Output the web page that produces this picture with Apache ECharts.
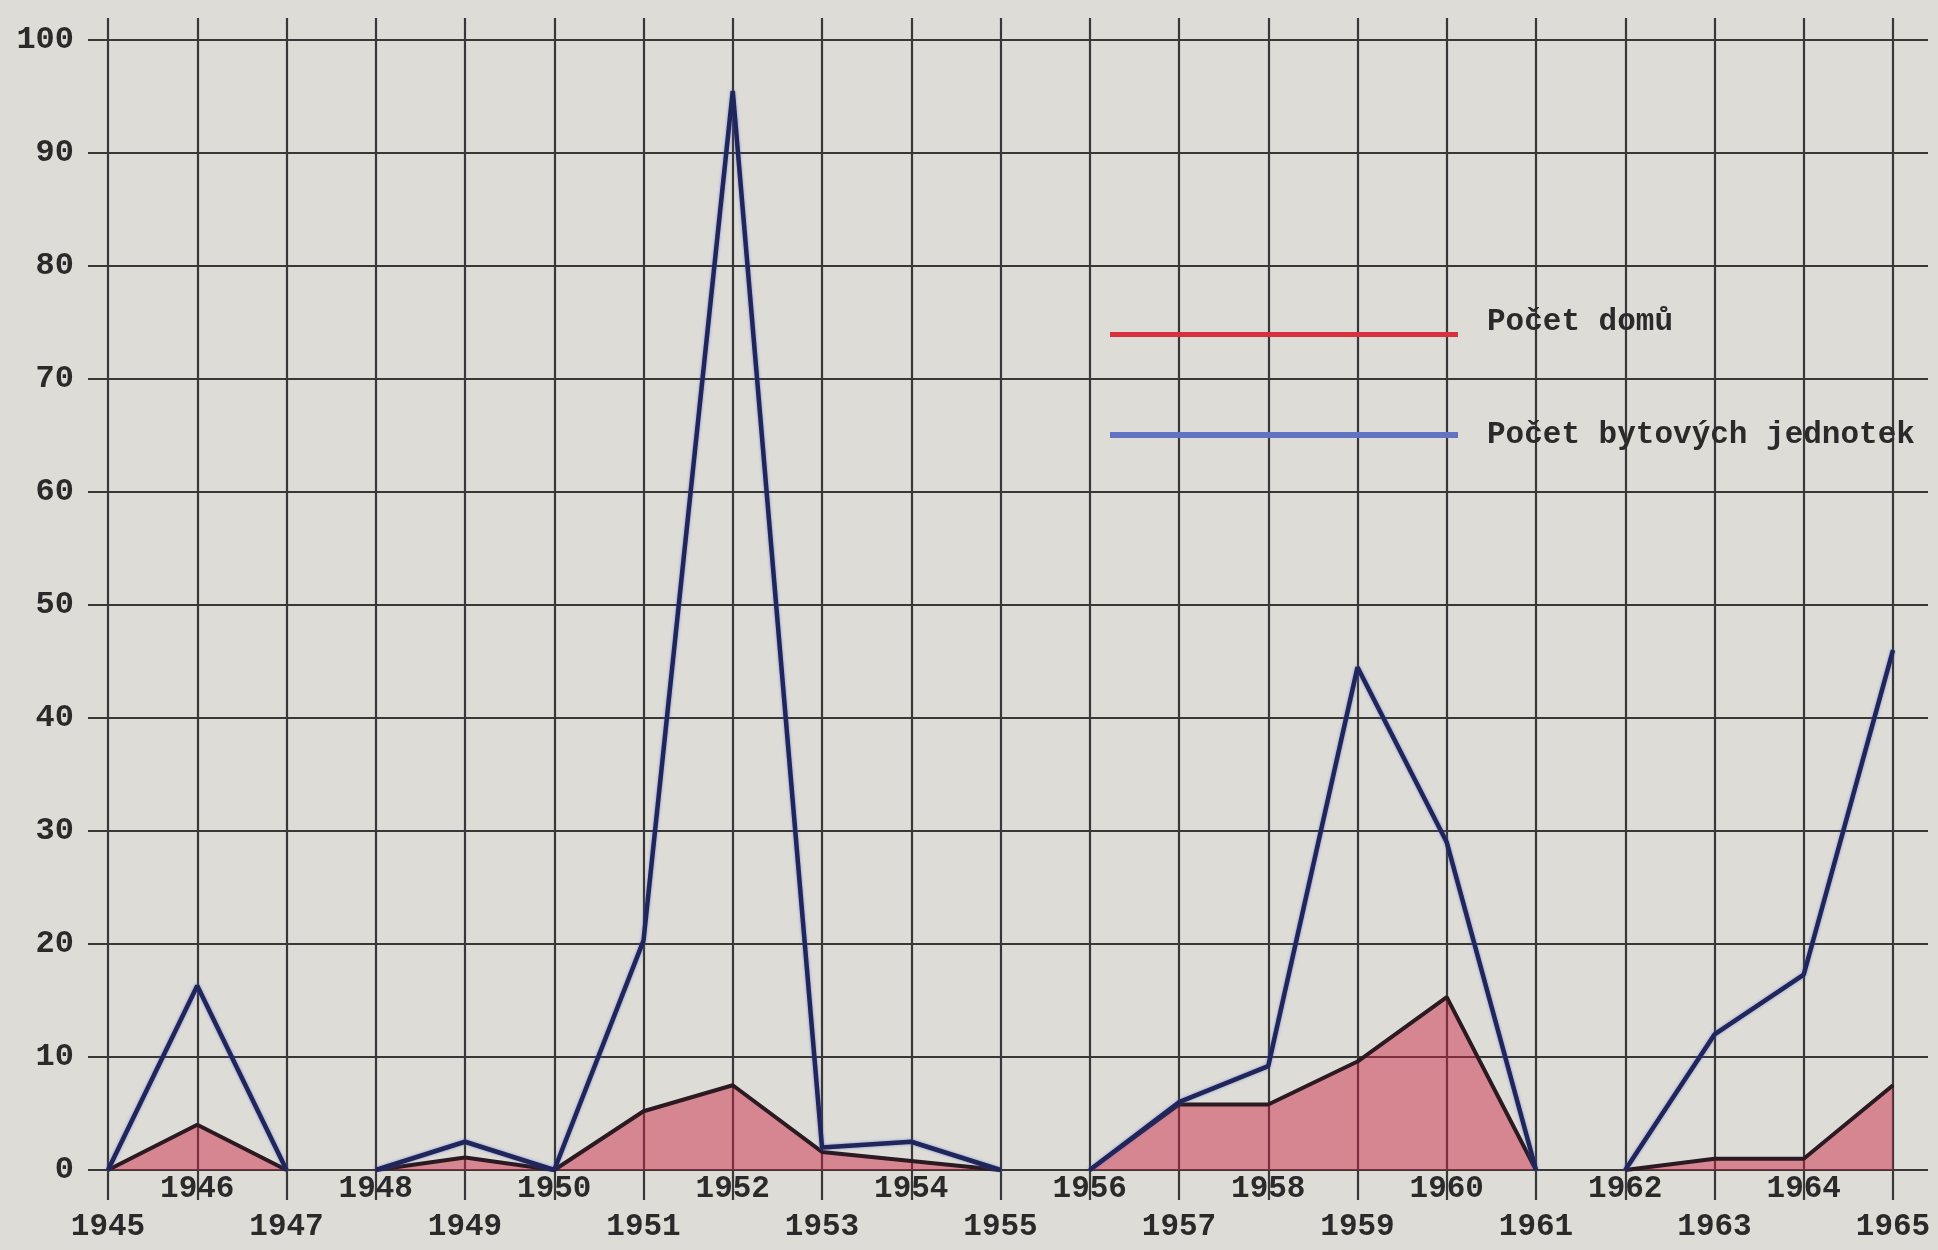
<!DOCTYPE html>
<html>
<head>
<meta charset="utf-8">
<script src="https://cdn.jsdelivr.net/npm/echarts@6/dist/echarts.min.js"></script>
<style>
html,body{margin:0;padding:0;background:#dddcd7;}
#chart{width:1938px;height:1250px;}
</style>
</head>
<body>
<div id="chart"></div>
<script>
// ---- data ----
const years = [1945,1946,1947,1948,1949,1950,1951,1952,1953,1954,1955,1956,1957,1958,1959,1960,1961,1962,1963,1964,1965];
const pocetDomu = [0,4,0, 0,1.1,0,5.2,7.5,1.6,0.8,0, 0,5.8,5.8,9.6,15.3,0, 0,1,1,7.5];
const pocetBytovychJednotek = [0,16.3,0, 0,2.5,0,20.3,95.5,2,2.5,0, 0,6,9.2,44.5,29,0, 0,12,17.3,46];
const segmentStarts = [1948,1956,1962];   // line is broken before these years
const yTicks = {min:0, max:100, step:10};
const seriesNames = ['Počet domů','Počet bytových jednotek'];

function buildData(values){
  const out = [];
  years.forEach((y,i)=>{
    if (segmentStarts.indexOf(y) >= 0) out.push([y, null]);
    out.push([y, values[i]]);
  });
  return out;
}

const FONT = 'Liberation Mono';
const TEXT_COLOR = '#2a2a2a';
const GRID_COLOR = '#383838';

const chart = echarts.init(document.getElementById('chart'), null, {renderer:'canvas'});
chart.setOption({
  animation:false,
  backgroundColor:'#dddcd7',
  grid:[
    {left:108, right:45, top:18, bottom:80},
    {left:88, right:10, top:40, bottom:80}
  ],
  xAxis:[
    {
      gridIndex:0, type:'value', min:years[0], max:years[years.length-1], interval:1,
      axisLine:{show:false},
      axisTick:{show:true, length:30, inside:false, lineStyle:{color:GRID_COLOR, width:2.2}},
      splitLine:{show:true, lineStyle:{color:GRID_COLOR, width:2.2}},
      axisLabel:{
        show:true, margin:0, fontFamily:FONT, fontWeight:'bold', fontSize:31,
        lineHeight:38, color:TEXT_COLOR, showMinLabel:true, showMaxLabel:true,
        formatter:v => (v % 2 === 0 ? String(v) : '\n' + v)
      }
    },
    {gridIndex:1, type:'value', min:0, max:1, show:false}
  ],
  yAxis:[
    {gridIndex:0, type:'value', min:0, max:101.95, show:false},
    {
      gridIndex:1, type:'value', min:yTicks.min, max:yTicks.max, interval:yTicks.step,
      axisLine:{show:false}, axisTick:{show:false},
      splitLine:{show:true, lineStyle:{color:GRID_COLOR, width:2.2}},
      axisLabel:{margin:14, fontFamily:FONT, fontWeight:'bold', fontSize:32, color:TEXT_COLOR, padding:[0,0,20,0]}
    }
  ],
  legend:[
    {
      data:[{name:seriesNames[0], itemStyle:{color:'#d8303c'}}],
      left:1110, top:304, padding:0,
      icon:'path://M0,0L1,0L0,0ZM0,25L348,25L348,30L0,30Z',
      itemWidth:348, itemHeight:30,
      selectedMode:false,
      textStyle:{fontFamily:FONT, fontWeight:'bold', fontSize:31, lineHeight:36, color:TEXT_COLOR, padding:[0,0,0,24]}
    },
    {
      data:[{name:seriesNames[1], itemStyle:{color:'#6273c4'}}],
      left:1110, top:417, padding:0, icon:'rect', itemWidth:348, itemHeight:6,
      selectedMode:false,
      textStyle:{fontFamily:FONT, fontWeight:'bold', fontSize:31, lineHeight:36, color:TEXT_COLOR, padding:[0,0,0,24]}
    }
  ],
  series:[
    {
      name:seriesNames[0], type:'line', xAxisIndex:0, yAxisIndex:0,
      data:buildData(pocetDomu), showSymbol:false, symbol:'none', connectNulls:false,
      lineStyle:{color:'#2b1a22', width:4},
      itemStyle:{color:'#d8303c'},
      areaStyle:{color:'rgba(205,35,65,0.66)'},
      z:2
    },
    {
      name:seriesNames[1], type:'line', xAxisIndex:0, yAxisIndex:0,
      data:buildData(pocetBytovychJednotek), showSymbol:false, symbol:'none', connectNulls:false,
      lineStyle:{color:'#20255a', width:4.5, shadowColor:'rgba(70,90,210,0.6)', shadowBlur:3},
      itemStyle:{color:'#6273c4'},
      z:3
    }
  ]
});
</script>
</body>
</html>
